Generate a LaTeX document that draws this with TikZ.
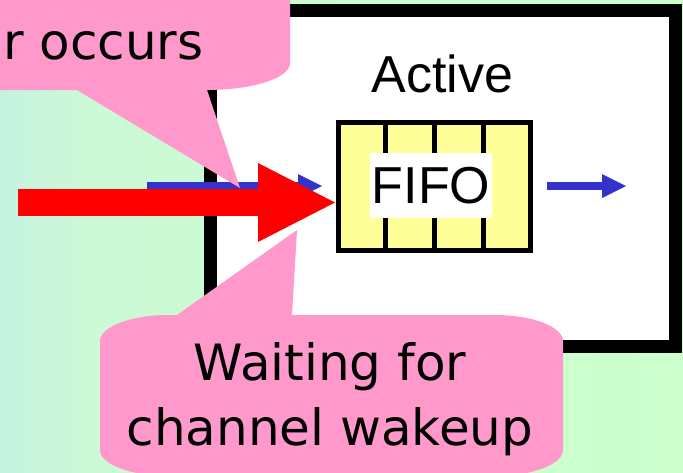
\documentclass[tikz,border=0pt]{standalone}
\usepackage{fontspec}
\setmainfont{Liberation Sans}
\newfontfamily\callfont{DejaVu Sans}
\usetikzlibrary{arrows.meta,calc}
\definecolor{bgleft}{RGB}{198,243,224}
\definecolor{bgmid}{RGB}{204,249,214}
\definecolor{bggreen}{RGB}{204,255,204}
\definecolor{pinkcall}{RGB}{255,153,204}
\definecolor{fifoyellow}{RGB}{255,255,153}
\definecolor{flowblue}{RGB}{51,51,204}
\tikzset{
  bigtext/.style={font=\fontsize{52}{60}\selectfont},
  calltext/.style={font=\callfont\fontsize{50}{65}\selectfont,align=center,inner sep=0},
  callout/.style={fill=pinkcall},
  flow/.style={flowblue,line width=7.5,-{Triangle[length=24pt,width=24pt,line width=0pt]}},
  wake/.style={red,line width=27,-{Triangle[length=77pt,width=79pt,line width=0pt]}},
}
\begin{document}
\begin{tikzpicture}[x=1pt,y=-1pt]
\useasboundingbox (0,0) rectangle (683,472);
\clip (0,0) rectangle (683,472);
% background
\shade[left color=bgleft,right color=bgmid] (0,0) rectangle (95,472);
\shade[left color=bgmid,right color=bggreen] (95,0) rectangle (683,472);
% channel frame
\node[draw,line width=13,fill=white,minimum width=464.5,minimum height=335.5,inner sep=0] (active) at (442.75,178.25) {};
\node[bigtext,anchor=base] (activelbl) at (442.5,92) {Active};
% flow arrows
\coordinate (inS) at (147,186);
\coordinate (inE) at (322,186);
\coordinate (outS) at (547,186);
\coordinate (outE) at (626,186);
\draw[flow] (inS) -- (inE);
\draw[flow] (outS) -- (outE);
% fifo
\node[draw,line width=5,fill=fifoyellow,minimum width=192,minimum height=128,inner sep=0] (fifo) at (434.5,186.5) {};
\foreach \k in {1,2,3}
  \draw[line width=5] ($(fifo.north west)!\k/4!(fifo.north east)$) -- ($(fifo.south west)!\k/4!(fifo.south east)$);
\node[bigtext,fill=white,minimum width=122,minimum height=65,inner sep=0] (fifolbl) at (431,185.5) {FIFO};
% wakeup arrow
\coordinate (wakeS) at (18,202.5);
\coordinate (wakeE) at (335,202.5);
\draw[wake] (wakeS) -- (wakeE);
% callouts
\fill[callout] (-20,-20) -- (290,-20) -- (290,63) .. controls (290,78) and (253,90) .. (207,90) -- (240,188) -- (77,90) -- (-20,90) -- cycle;
\node[calltext,anchor=base west] (occurs) at (3,59) {r occurs};
\fill[callout] (100,341) .. controls (100,327) and (131,315) .. (168,315) -- (177,315) -- (297,230) -- (292,315) -- (495,315) .. controls (533,315) and (563,327) .. (563,341) -- (563,450) .. controls (563,464) and (533,476) .. (495,476) -- (168,476) .. controls (131,476) and (100,464) .. (100,450) -- cycle;
\node[calltext] (waiting) at (330,399.5) {Waiting for\\channel wakeup};
\end{tikzpicture}
\end{document}
